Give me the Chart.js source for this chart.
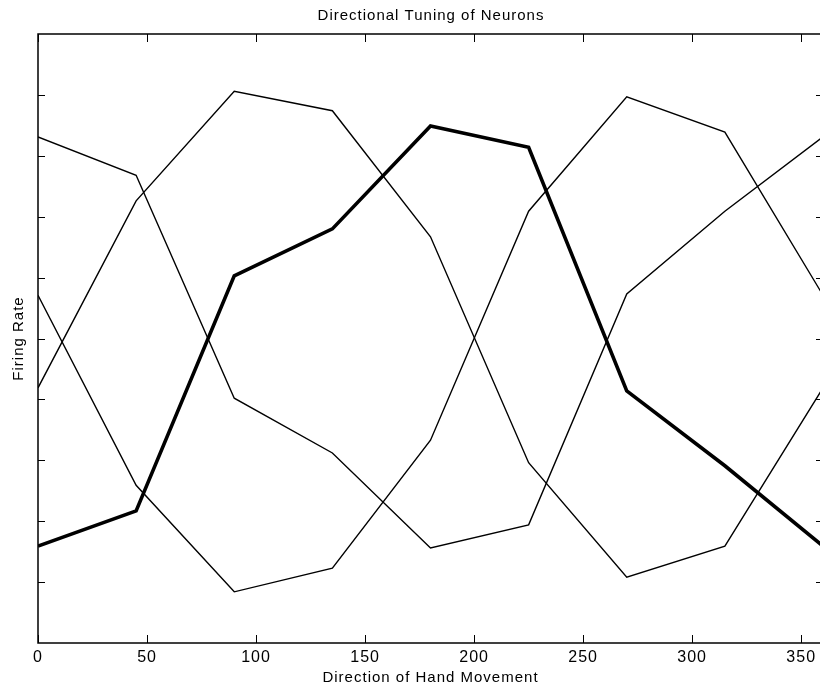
<!DOCTYPE html>
<html>
<head>
<meta charset="utf-8">
<title>Directional Tuning of Neurons</title>
<script src="https://cdn.jsdelivr.net/npm/chart.js@4.4.0/dist/chart.umd.min.js"></script>
<style>
  html, body { margin: 0; padding: 0; background: #fff; overflow: hidden; }
  canvas { display: block; }
</style>
</head>
<body>
<canvas id="tuningChart" width="862" height="687"></canvas>
<script>
// Direction of hand movement (degrees)
const directions = [0, 45, 90, 135, 180, 225, 270, 315, 360];

// Firing rates (arbitrary units, axis 0..10)
const tunedNeuron = [1.59, 2.17, 6.03, 6.80, 8.49, 8.14, 4.14, 2.91, 1.59]; // thick line
const neuronA = [8.31, 7.68, 4.02, 3.12, 1.56, 1.94, 5.73, 7.09, 8.31];
const neuronB = [5.71, 2.59, 0.84, 1.23, 3.33, 7.09, 8.97, 8.39, 5.71];
const neuronC = [4.19, 7.26, 9.06, 8.74, 6.67, 2.96, 1.08, 1.59, 4.19];

// Tick positions
const xTickValues = [0, 50, 100, 150, 200, 250, 300, 350];
const yTickValues = [1, 2, 3, 4, 5, 6, 7, 8, 9];

const toPoints = (vals) => directions.map((d, i) => ({ x: d, y: vals[i] }));

Chart.defaults.font.family = '"Liberation Sans", Arial, Helvetica, sans-serif';
Chart.defaults.color = '#000';

// Box around the plot with inward tick marks (matlab style)
const frameTicks = {
    id: 'frameTicks',
    beforeDraw: (chart) => {
        chart.ctx.letterSpacing = '1px';
    },
    afterDraw: (chart) => {
        const { ctx, chartArea, scales } = chart;
        const { left, right, top, bottom } = chartArea;

        ctx.save();
        ctx.strokeStyle = '#000';
        ctx.lineWidth = 1.5;
        ctx.strokeRect(left, top, right - left, bottom - top);

        ctx.lineWidth = 1;
        ctx.beginPath();
        xTickValues.forEach((v) => {
            const x = Math.round(scales.x.getPixelForValue(v)) + 0.5;
            ctx.moveTo(x, bottom);
            ctx.lineTo(x, bottom - 8);
            ctx.moveTo(x, top);
            ctx.lineTo(x, top + 8);
        });
        yTickValues.forEach((v) => {
            const y = Math.round(scales.y.getPixelForValue(v)) + 0.5;
            ctx.moveTo(left, y);
            ctx.lineTo(left + 7, y);
            ctx.moveTo(right, y);
            ctx.lineTo(right - 7, y);
        });
        ctx.stroke();
        ctx.restore();
    },
};

const thin = (vals) => ({
    data: toPoints(vals),
    borderColor: '#000',
    borderWidth: 1.4,
    pointRadius: 0,
    borderJoinStyle: 'miter',
    tension: 0,
});

new Chart(document.getElementById('tuningChart'), {
    type: 'line',
    data: {
        datasets: [
            thin(neuronA),
            thin(neuronB),
            thin(neuronC),
            {
                data: toPoints(tunedNeuron),
                borderColor: '#000',
                borderWidth: 3.6,
                pointRadius: 0,
                borderJoinStyle: 'miter',
                tension: 0,
            },
        ],
    },
    options: {
        responsive: false,
        animation: false,
        devicePixelRatio: 1,
        layout: { padding: 0 },
        plugins: {
            legend: { display: false },
            tooltip: { enabled: false },
            title: {
                display: true,
                text: 'Directional Tuning of Neurons',
                color: '#000',
                font: { size: 15, weight: 'normal' },
                padding: { top: 7, bottom: 9 },
            },
        },
        scales: {
            x: {
                type: 'linear',
                min: 0,
                max: 360,
                grid: { display: false, drawTicks: false },
                border: { display: false },
                ticks: {
                    stepSize: 50,
                    includeBounds: false,
                    autoSkip: false,
                    maxRotation: 0,
                    padding: 5,
                    color: '#000',
                    font: { size: 16 },
                },
                title: {
                    display: true,
                    text: 'Direction of Hand Movement',
                    color: '#000',
                    font: { size: 15 },
                    padding: { top: 0, bottom: 0 },
                },
                afterFit: (scale) => { scale.height = 44; },
            },
            y: {
                type: 'linear',
                min: 0,
                max: 10,
                grid: { display: false, drawTicks: false },
                border: { display: false },
                ticks: { display: false, stepSize: 1 },
                title: {
                    display: true,
                    text: 'Firing Rate',
                    color: '#000',
                    font: { size: 15 },
                    padding: { top: 10, bottom: 10 },
                },
                afterFit: (scale) => { scale.width = 38; },
            },
            // empty right axis, only keeps the plot box running past the window edge
            yRight: {
                type: 'linear',
                position: 'right',
                grid: { display: false, drawTicks: false },
                border: { display: false },
                ticks: { display: false },
                afterFit: (scale) => { scale.width = 39; },
            },
        },
    },
    plugins: [frameTicks],
});
</script>
</body>
</html>
